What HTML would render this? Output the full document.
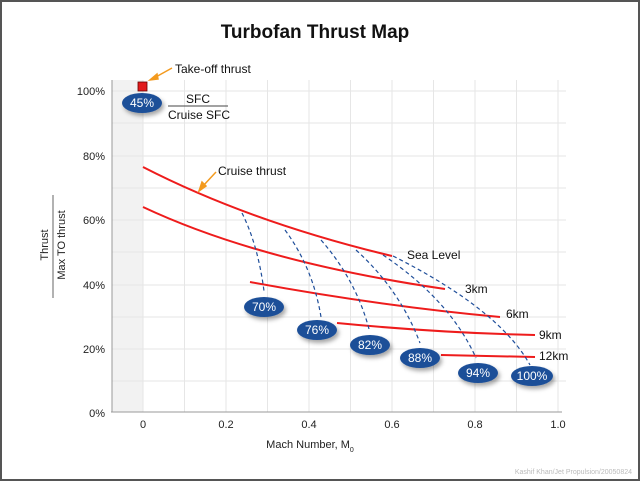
<!DOCTYPE html><html><head><style>body{margin:0;background:#fff}svg{display:block}text{font-family:"Liberation Sans",sans-serif}</style></head><body>
<svg width="640" height="481" viewBox="0 0 640 481">
<defs><filter id="sh" x="-30%" y="-30%" width="160%" height="180%"><feDropShadow dx="2" dy="3" stdDeviation="2" flood-opacity="0.35"/></filter></defs>
<rect x="1" y="1" width="638" height="479" fill="#fff" stroke="#555" stroke-width="2"/>
<text x="315" y="38" text-anchor="middle" font-size="19" font-weight="bold" fill="#111">Turbofan Thrust Map</text>
<rect x="112" y="80" width="31" height="332" fill="#f2f2f2"/>
<g stroke="#e6e6e6" stroke-width="1">
<line x1="143" y1="80" x2="143" y2="412"/><line x1="184.5" y1="80" x2="184.5" y2="412"/><line x1="226" y1="80" x2="226" y2="412"/><line x1="267.5" y1="80" x2="267.5" y2="412"/><line x1="309" y1="80" x2="309" y2="412"/><line x1="350.5" y1="80" x2="350.5" y2="412"/><line x1="392" y1="80" x2="392" y2="412"/><line x1="433.5" y1="80" x2="433.5" y2="412"/><line x1="475" y1="80" x2="475" y2="412"/><line x1="516.5" y1="80" x2="516.5" y2="412"/><line x1="558" y1="80" x2="558" y2="412"/>
<line x1="112" y1="91" x2="566" y2="91"/><line x1="112" y1="123" x2="566" y2="123"/><line x1="112" y1="156" x2="566" y2="156"/><line x1="112" y1="188" x2="566" y2="188"/><line x1="112" y1="220" x2="566" y2="220"/><line x1="112" y1="252" x2="566" y2="252"/><line x1="112" y1="285" x2="566" y2="285"/><line x1="112" y1="317" x2="566" y2="317"/><line x1="112" y1="349" x2="566" y2="349"/><line x1="112" y1="381" x2="566" y2="381"/>
</g>
<line x1="112" y1="80" x2="112" y2="412" stroke="#999"/><line x1="111" y1="412" x2="562" y2="412" stroke="#999"/>
<g font-size="11" fill="#222" text-anchor="end"><text x="105" y="95">100%</text><text x="105" y="160">80%</text><text x="105" y="224">60%</text><text x="105" y="289">40%</text><text x="105" y="353">20%</text><text x="105" y="417">0%</text></g>
<g font-size="11" fill="#222" text-anchor="middle"><text x="143" y="428">0</text><text x="226" y="428">0.2</text><text x="309" y="428">0.4</text><text x="392" y="428">0.6</text><text x="475" y="428">0.8</text><text x="558" y="428">1.0</text></g>
<text x="310" y="448" font-size="11" text-anchor="middle" fill="#222">Mach Number, M<tspan font-size="7" dy="4">0</tspan></text>
<g font-size="11" fill="#222" text-anchor="middle"><text transform="translate(48,245) rotate(-90)">Thrust</text><text transform="translate(65,245) rotate(-90)">Max TO thrust</text></g>
<line x1="53" y1="195" x2="53" y2="298" stroke="#666"/>
<text x="632" y="474" font-size="7" fill="#bbb" text-anchor="end">Kashif Khan/Jet Propulsion/20050824</text>
<g stroke="#ee1c1c" stroke-width="2" fill="none">
<path d="M143,167 Q250,222 392,256"/>
<path d="M143,207 Q260,262 445,289"/>
<path d="M250,282 Q380,306 500,317"/>
<path d="M337,323 Q440,333 535,335"/>
<path d="M441,355 L535,357"/>
</g>
<g stroke="#1f4e9a" stroke-width="1.2" stroke-dasharray="4,3" fill="none">
<path d="M242,213 Q258,245 264,291"/>
<path d="M285,230 Q313,268 321,317"/>
<path d="M321,240 Q356,280 369,329"/>
<path d="M356,250 Q400,290 420,343"/>
<path d="M383,255 Q450,300 476,358"/>
<path d="M393,256 Q500,310 530,365"/>
</g>
<g fill="#1d4f98" filter="url(#sh)">
<ellipse cx="142" cy="103" rx="20" ry="10"/><ellipse cx="264" cy="307" rx="20" ry="10"/><ellipse cx="317" cy="330" rx="20" ry="10"/><ellipse cx="370" cy="345" rx="20" ry="10"/><ellipse cx="420" cy="358" rx="20" ry="10"/><ellipse cx="478" cy="373" rx="20" ry="10"/><ellipse cx="532" cy="376" rx="21" ry="10"/>
</g>
<g font-size="12" fill="#fff" text-anchor="middle"><text x="142" y="107">45%</text><text x="264" y="311">70%</text><text x="317" y="334">76%</text><text x="370" y="349">82%</text><text x="420" y="362">88%</text><text x="478" y="377">94%</text><text x="532" y="380">100%</text></g>
<rect x="138" y="82" width="9" height="9" fill="#e21b1b" stroke="#600" stroke-width="0.8"/>
<g stroke="#f39a1e" stroke-width="1.5" fill="#f39a1e"><line x1="172" y1="68" x2="154" y2="78"/><polygon points="150,80 157,74 158,79"/><line x1="216" y1="172" x2="203" y2="186"/><polygon points="199,191 202,182 206,186"/></g>
<g font-size="12" fill="#111"><text x="175" y="73">Take-off thrust</text><text x="218" y="175">Cruise thrust</text><text x="186" y="103">SFC</text><text x="168" y="119">Cruise SFC</text>
<text x="407" y="259">Sea Level</text><text x="465" y="293">3km</text><text x="506" y="318">6km</text><text x="539" y="339">9km</text><text x="539" y="360">12km</text></g>
<line x1="168" y1="106" x2="228" y2="106" stroke="#444"/>
</svg></body></html>
